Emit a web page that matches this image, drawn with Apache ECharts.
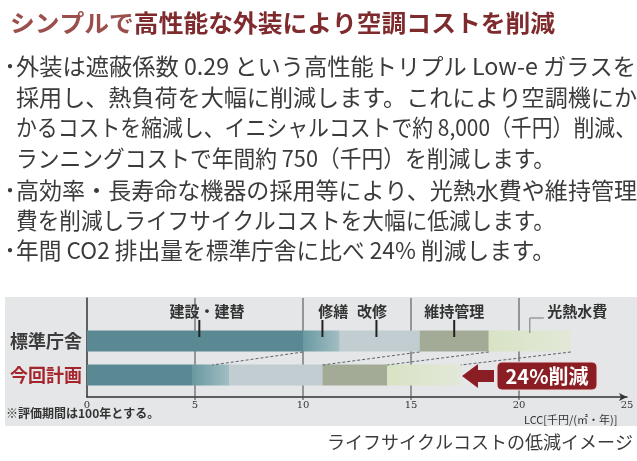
<!DOCTYPE html>
<html>
<head>
<meta charset="utf-8">
<script src="https://cdn.jsdelivr.net/npm/echarts@6/dist/echarts.min.js"></script>
<style>
  html, body { margin: 0; padding: 0; background: #fff; }
  #main { width: 637px; height: 461px; }
</style>
</head>
<body>
<div id="main"></div>
<script>
// LCC 千円/(㎡・年)
const categories = ['今回計画', '標準庁舎'];
const construction = [4.9, 10.0]; // 建設・建替
const repair = [1.7, 1.7];        // 修繕
const renovation = [4.3, 3.7];    // 改修
const maintenance = [3.0, 3.2];   // 維持管理
const utilities = [3.4, 3.8];     // 光熱水費
const xTicks = [0, 5, 10, 15, 20, 25];
const guideLines = [5, 10, 15, 20];
// dashed lines: end of a segment on 標準庁舎 -> same on 今回計画
const stdEnds = [10.0, 15.4, 18.6, 22.4];
const planEnds = [5.8, 10.9, 13.9, 17.3];
// header labels above the bars
const headNames = ['建設・建替', '修繕', '改修', '維持管理', '光熱水費'];
const headTextAt = [5.55, 11.4, 13.2, 17.0, 22.7];
const headTickAt = [5.2, 10.9, 13.4, 17.0, 20.5];

const bodyLines = [
  '外装は遮蔽係数 0.29 という高性能トリプル Low-e ガラスを',
  '採用し、熱負荷を大幅に削減します。これにより空調機にか',
  'かるコストを縮減し、イニシャルコストで約 8,000（千円）削減、',
  'ランニングコストで年間約 750（千円）を削減します。',
  '高効率・長寿命な機器の採用等により、光熱水費や維持管理',
  '費を削減しライフサイクルコストを大幅に低減します。',
  '年間 CO2 排出量を標準庁舎に比べ 24% 削減します。'
];
const bodyY = [66, 97, 127, 158, 190, 220, 250];
const bodyEnd = [636, 637, 636, 555, 637, 555, 555];
const bulletRows = [0, 4, 6];

const chart = echarts.init(document.getElementById('main'));
const jp = '"Noto Sans CJK JP"';
const grad = (a, b) => new echarts.graphic.LinearGradient(0, 0, 1, 0, [
  { offset: 0, color: a }, { offset: 1, color: b }
]);

// squeeze/stretch text lines to the width they have in the picture
const ctx = document.createElement('canvas').getContext('2d');
function textWidth(t, font) {
  ctx.font = font;
  return ctx.measureText(t).width;
}

const titleA = 'シンプルで';
const titleB = '高性能な外装により空調コストを削減';
const titleFont = 'bold 24px ' + jp;
const bodyFont = '23px ' + jp;

const graphics = [
  { type: 'rect', z: -10, shape: { x: 5, y: 297, width: 632, height: 129 },
    style: { fill: '#e4e6e7' } },
  { type: 'text', x: 10, y: 23,
    scaleX: 545 / textWidth(titleA + titleB, titleFont),
    style: { text: '{a|' + titleA + '}{b|' + titleB + '}', font: titleFont, verticalAlign: 'middle',
      rich: {
        a: { font: titleFont, fill: '#9a4f4c' },
        b: { font: titleFont, fill: '#7f2b2e' }
      } } },
  { type: 'text', x: 6, y: 413,
    style: { text: '※評価期間は100年とする。', font: 'bold 12px ' + jp, fill: '#333', verticalAlign: 'middle' } },
  { type: 'text', x: 524, y: 420,
    style: { text: 'LCC[千円/(㎡・年)]', font: '11px ' + jp, fill: '#333', verticalAlign: 'middle' } },
  { type: 'text', x: 633, y: 442,
    style: { text: 'ライフサイクルコストの低減イメージ', font: '18px ' + jp, fill: '#3a3a3a',
      align: 'right', verticalAlign: 'middle' } },
  { type: 'polygon', z: 100,
    shape: { points: [[462, 376], [478, 364], [478, 370], [494, 370], [494, 382], [478, 382], [478, 388]] },
    style: { fill: '#8b1e24' } },
  { type: 'rect', z: 100, shape: { x: 497, y: 362, width: 100, height: 28, r: 5 },
    style: { fill: '#8b1e24', stroke: '#f4dcdc', lineWidth: 1 } },
  { type: 'text', z: 101, x: 547, y: 376,
    style: { text: '24%削減', font: 'bold 20px ' + jp, fill: '#fff', align: 'center', verticalAlign: 'middle' } }
];
bodyLines.forEach((t, i) => {
  graphics.push({ type: 'text', x: 16, y: bodyY[i],
    scaleX: (bodyEnd[i] - 16) / textWidth(t, bodyFont),
    style: { text: t, font: bodyFont, fill: '#3b3b3b', verticalAlign: 'middle' } });
});
bulletRows.forEach(i => {
  graphics.push({ type: 'text', x: 0, y: bodyY[i],
    style: { text: '・', font: '20px ' + jp, fill: '#3b3b3b', verticalAlign: 'middle' } });
});

const barSeries = (name, data, color) => ({
  name, type: 'bar', stack: 'lcc', data, barWidth: 21,
  xAxisIndex: 1, yAxisIndex: 1, z: 2,
  itemStyle: { color }
});

chart.setOption({
  animation: false,
  graphic: graphics,
  grid: [
    { left: 87, right: 10, top: 298, bottom: 64 },
    { left: 87, right: 10, top: 324, bottom: 69 }
  ],
  xAxis: [
    { type: 'value', gridIndex: 0, min: 0, max: 25, interval: 5,
      axisLine: { show: true, lineStyle: { color: '#333', width: 1.5 },
        symbol: ['none', 'arrow'], symbolSize: [6, 8] },
      axisTick: { show: false },
      axisLabel: { customValues: xTicks, fontSize: 10, color: '#333', margin: 3, fontFamily: 'DejaVu Serif' },
      splitLine: { show: false } },
    { type: 'value', gridIndex: 1, min: 0, max: 25, show: false }
  ],
  yAxis: [
    { type: 'value', gridIndex: 0, min: 0, max: 1,
      axisLine: { show: true, lineStyle: { color: '#333', width: 1.5 } },
      axisTick: { show: false }, axisLabel: { show: false }, splitLine: { show: false } },
    { type: 'category', gridIndex: 1, data: categories,
      axisLine: { show: false }, axisTick: { show: false },
      axisLabel: { margin: 5,
        formatter: v => v === '今回計画' ? '{p|' + v + '}' : '{s|' + v + '}',
        rich: {
          s: { fontSize: 18, fontWeight: 'bold', color: '#3c3c3c', fontFamily: 'Noto Sans CJK JP' },
          p: { fontSize: 18, fontWeight: 'bold', color: '#a4262c', fontFamily: 'Noto Sans CJK JP' }
        } } }
  ],
  series: [
    { type: 'custom', xAxisIndex: 0, yAxisIndex: 0, z: 1,
      data: guideLines.map(v => [v, 0]), encode: { x: 0, y: 1 },
      renderItem(params, api) {
        const top = api.coord([api.value(0), 1]);
        const bot = api.coord([api.value(0), 0]);
        return { type: 'line', shape: { x1: top[0], y1: top[1], x2: bot[0], y2: bot[1] + 3 },
          style: { stroke: '#444', lineWidth: 1 } };
      } },
    barSeries('建設・建替', construction, '#5a8893'),
    barSeries('修繕', repair, grad('#6a99a2', '#a2bec3')),
    barSeries('改修', renovation, '#c2cdd2'),
    barSeries('維持管理', maintenance, '#a3ab97'),
    barSeries('光熱水費', utilities, grad('#d8e3c4', '#e2e8d8')),
    { type: 'custom', xAxisIndex: 1, yAxisIndex: 1, z: 5,
      data: stdEnds.map((v, i) => [v, planEnds[i], 0]), encode: { x: [0, 1], y: 2 },
      renderItem(params, api) {
        const a = api.coord([api.value(0), 1]);
        const b = api.coord([api.value(1), 0]);
        return { type: 'line', shape: { x1: a[0], y1: a[1] + 11, x2: b[0], y2: b[1] - 10 },
          style: { stroke: '#5a6470', lineWidth: 1, lineDash: [3, 2] } };
      } },
    { type: 'custom', xAxisIndex: 0, yAxisIndex: 0, z: 6,
      data: headNames.map((n, i) => [headTextAt[i], 1, headTickAt[i]]), encode: { x: 0, y: 1 },
      renderItem(params, api) {
        const t = api.coord([api.value(0), 1]);
        const k = api.coord([api.value(2), 1]);
        const name = headNames[params.dataIndex];
        const kids = [{ type: 'text', x: t[0], y: t[1] + 13,
          style: { text: name, font: 'bold 15px "Noto Sans CJK JP"', fill: '#333',
            align: 'center', verticalAlign: 'middle' } }];
        if (Math.abs(t[0] - k[0]) > 25) {
          kids.push({ type: 'polyline', shape: { points: [[k[0], t[1] + 35], [k[0], t[1] + 20], [k[0] + 14, t[1] + 20]] },
            style: { stroke: '#777', lineWidth: 1, fill: null } });
        } else {
          kids.push({ type: 'line', shape: { x1: k[0], y1: t[1] + 22, x2: k[0], y2: t[1] + 39 },
            style: { stroke: '#222', lineWidth: 2 } });
        }
        return { type: 'group', children: kids };
      } }
  ]
});
</script>
</body>
</html>
